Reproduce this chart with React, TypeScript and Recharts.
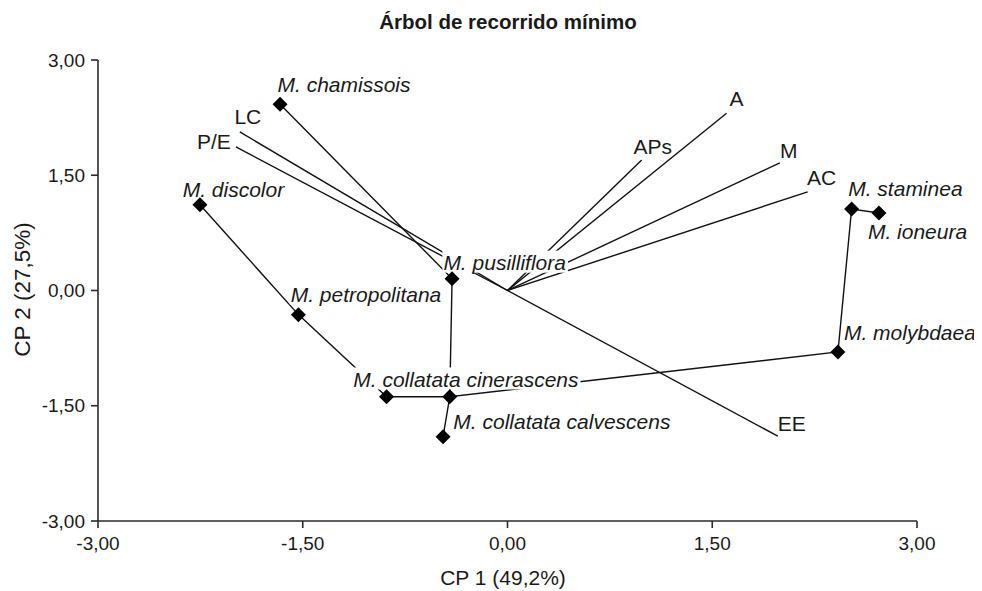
import React from 'react';
import { ScatterChart, Scatter, XAxis, YAxis, Label } from 'recharts';

// ---------- data ----------
const speciesNames = [
  'M. chamissois',
  'M. discolor',
  'M. petropolitana',
  'M. pusilliflora',
  'M. collatata cinerascens',
  '',
  'M. collatata calvescens',
  'M. molybdaea',
  'M. staminea',
  'M. ioneura',
];
const speciesX = [-1.666, -2.253, -1.532, -0.406, -0.886, -0.423, -0.472, 2.421, 2.521, 2.721];
const speciesY = [2.424, 1.116, -0.314, 0.154, -1.383, -1.383, -1.903, -0.799, 1.06, 1.008];

// minimum spanning tree drawn as two polylines (indices into species arrays)
const treePathA = [0, 3, 5, 7, 8, 9];
const treePathB = [1, 2, 4, 5, 6];

const variableNames = ['A', 'APs', 'M', 'AC', 'EE', 'LC', 'P/E'];
const variableX = [1.605, 0.983, 1.995, 2.199, 1.98, -1.961, -1.99];
const variableY = [2.307, 1.7, 1.662, 1.284, -1.895, 2.064, 1.869];

const axisTicks = [-3, -1.5, 0, 1.5, 3];

const titleText = 'Árbol de recorrido mínimo';
const xTitle = 'CP 1 (49,2%)';
const yTitle = 'CP 2 (27,5%)';

// ---------- styles ----------
const FONT = "'Liberation Sans', Arial, Helvetica, sans-serif";
const INK = '#1a1a1a';
const AXIS = '#2a2a2a';
const LABEL_FS = 21;

const speciesLabelOffset: Record<string, [number, number]> = {
  'M. chamissois': [-2.6, -20],
  'M. discolor': [-17.3, -15],
  'M. petropolitana': [-7.7, -20],
  'M. pusilliflora': [-8.7, -16],
  'M. collatata cinerascens': [-33.3, -17.3],
  'M. collatata calvescens': [10.3, -15.6],
  'M. molybdaea': [6, -19],
  'M. staminea': [-3.4, -21],
  'M. ioneura': [-11, 18.4],
};
const variableLabelOffset: Record<string, [number, number]> = {
  A: [10, -15],
  APs: [11, -13],
  M: [9, -12],
  AC: [14, -14],
  EE: [14, -13],
  LC: [8, -15],
  'P/E': [-22, -5],
};

let measureCtx: CanvasRenderingContext2D | null = null;
function textWidth(s: string, font: string): number {
  if (!measureCtx) measureCtx = document.createElement('canvas').getContext('2d');
  if (!measureCtx) return s.length * 10;
  measureCtx.font = font;
  return measureCtx.measureText(s).width;
}

const fmt = (v: number) => v.toFixed(2).replace('.', ',');

const speciesPoints = speciesNames.map((name, i) => ({ name, x: speciesX[i], y: speciesY[i] }));
const pathData = (path: number[]) => path.map((i) => ({ x: speciesX[i], y: speciesY[i] }));
const variablePoints = variableNames.map((name, i) => ({ name, x: variableX[i], y: variableY[i] }));

const NoShape = () => <g />;

const Diamond = (props: any) => {
  const { cx, cy } = props;
  if (cx == null || cy == null) return <g />;
  const h = 7.5;
  return (
    <polygon
      points={`${cx},${cy - h} ${cx + h},${cy} ${cx},${cy + h} ${cx - h},${cy}`}
      fill="#000"
    />
  );
};

const SpeciesLabel = (props: any) => {
  const { cx, cy, payload } = props;
  const name = payload?.name;
  if (!name || cx == null) return <g />;
  const [dx, dy] = speciesLabelOffset[name] || [0, 0];
  const w = textWidth(name, `italic ${LABEL_FS}px ${FONT}`);
  const x = cx + dx;
  const yc = cy + dy;
  return (
    <g>
      <rect x={x - 1} y={yc - 12} width={w + 3} height={22} fill="#fff" />
      <text
        x={x}
        y={yc + 0.36 * LABEL_FS}
        fontFamily={FONT}
        fontStyle="italic"
        fontSize={LABEL_FS}
        fill={INK}
      >
        {name}
      </text>
    </g>
  );
};

const VariableLabel = (props: any) => {
  const { cx, cy, payload } = props;
  const name = payload?.name;
  if (!name || cx == null) return <g />;
  const [dx, dy] = variableLabelOffset[name] || [0, 0];
  return (
    <text
      x={cx + dx}
      y={cy + dy + 0.36 * LABEL_FS}
      textAnchor="middle"
      fontFamily={FONT}
      fontSize={LABEL_FS}
      fill={INK}
    >
      {name}
    </text>
  );
};

const XTitle = (props: any) => {
  const vb = props.viewBox || { x: 0, y: 0, width: 0, height: 0 };
  return (
    <text
      x={vb.x + vb.width / 2 - 4.5}
      y={vb.y + 64}
      textAnchor="middle"
      fontFamily={FONT}
      fontSize={21}
      fill={INK}
    >
      {xTitle}
    </text>
  );
};

const YTitle = (props: any) => {
  const vb = props.viewBox || { x: 0, y: 0, width: 0, height: 0 };
  const fs = 22.5;
  const cx = vb.x + 13.7 + 0.36 * fs;
  const cy = vb.y + vb.height / 2 - 1;
  return (
    <text
      x={cx}
      y={cy}
      transform={`rotate(-90, ${cx}, ${cy})`}
      textAnchor="middle"
      fontFamily={FONT}
      fontSize={fs}
      fill={INK}
    >
      {yTitle}
    </text>
  );
};

export default function App() {
  const W = 974;
  const H = 583;
  const lineStyle = { stroke: '#111', strokeWidth: 1.4 };
  return (
    <div style={{ position: 'relative', width: W, height: H, background: '#fff' }}>
      <div
        style={{
          position: 'absolute',
          left: 0,
          width: 1000,
          top: 3,
          lineHeight: '21px',
          textAlign: 'center',
          fontFamily: FONT,
          fontWeight: 'bold',
          fontSize: 20.5,
          color: INK,
          whiteSpace: 'nowrap',
        }}
      >
        {titleText}
      </div>
      <ScatterChart
        width={W}
        height={H}
        margin={{ top: 52, right: 65, bottom: 39, left: 0 }}
        style={{ position: 'absolute', left: 0, top: 0, overflow: 'visible' }}
      >
        <XAxis
          type="number"
          dataKey="x"
          domain={[-3, 3]}
          ticks={axisTicks}
          tickFormatter={fmt}
          interval={0}
          height={31}
          tickSize={7}
          tickMargin={9}
          axisLine={{ stroke: AXIS, strokeWidth: 1.6 }}
          tickLine={{ stroke: AXIS, strokeWidth: 1.6 }}
          tick={{ fill: INK, fontSize: 19, fontFamily: FONT }}
        >
          <Label content={<XTitle />} />
        </XAxis>
        <YAxis
          type="number"
          dataKey="y"
          domain={[-3, 3]}
          ticks={axisTicks}
          tickFormatter={fmt}
          interval={0}
          width={90}
          tickSize={7}
          tickMargin={6}
          axisLine={{ stroke: AXIS, strokeWidth: 1.6 }}
          tickLine={{ stroke: AXIS, strokeWidth: 1.6 }}
          tick={{ fill: INK, fontSize: 19, fontFamily: FONT }}
        >
          <Label content={<YTitle />} />
        </YAxis>

        {variablePoints.map((v) => (
          <Scatter
            key={`vec-${v.name}`}
            data={[{ x: 0, y: 0 }, { x: v.x, y: v.y }]}
            line={lineStyle}
            shape={NoShape}
            isAnimationActive={false}
            legendType="none"
          />
        ))}
        <Scatter
          data={pathData(treePathA)}
          line={lineStyle}
          shape={NoShape}
          isAnimationActive={false}
          legendType="none"
        />
        <Scatter
          data={pathData(treePathB)}
          line={lineStyle}
          shape={NoShape}
          isAnimationActive={false}
          legendType="none"
        />
        <Scatter
          data={speciesPoints}
          shape={SpeciesLabel}
          isAnimationActive={false}
          legendType="none"
        />
        <Scatter
          data={variablePoints}
          shape={VariableLabel}
          isAnimationActive={false}
          legendType="none"
        />
        <Scatter
          data={speciesPoints}
          shape={Diamond}
          isAnimationActive={false}
          legendType="none"
        />
      </ScatterChart>
    </div>
  );
}
